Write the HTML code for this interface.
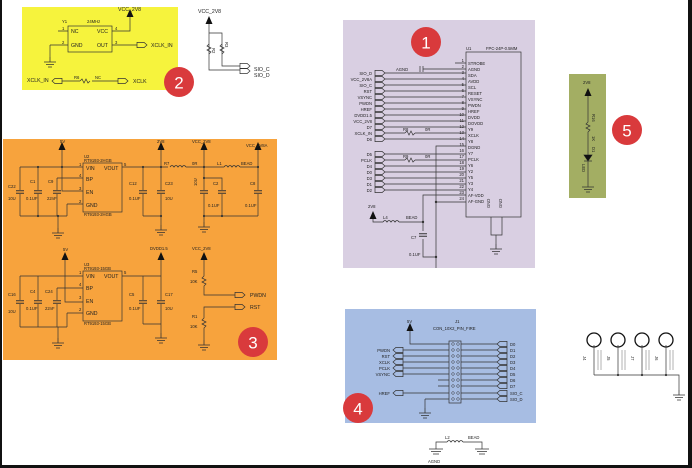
<!DOCTYPE html>
<html><head><meta charset="utf-8"><style>
html,body{margin:0;padding:0;background:#fff;}
svg{display:block;font-family:"Liberation Sans",sans-serif;}
.t{font-size:5.2px;fill:#222;}
.s{font-size:4.2px;fill:#222;}
.w{stroke:#333;stroke-width:0.7;fill:none;}
.b{font-size:17px;fill:#fff;font-family:"Liberation Sans",sans-serif;}
</style></head><body>
<svg width="692" height="468" viewBox="0 0 692 468" xmlns="http://www.w3.org/2000/svg">
<defs>
<g id="gnd"><path d="M0 0V5M-6 5H6M-4 7.5H4M-2 10H2" stroke="#333" stroke-width="0.8" fill="none"/></g>
<g id="arr"><path d="M-3.5 0L0 -8L3.5 0Z" fill="#111"/></g>
<g id="cap"><path d="M-4 -1.2H4M-4 1.2H4" stroke="#333" stroke-width="1"/></g>
<g id="conL"><path d="M0 -2.6H7L10 0L7 2.6H0Z" stroke="#333" stroke-width="0.7" fill="none"/></g>
<g id="conR"><path d="M10 -2.6H3L0 0L3 2.6H10Z" stroke="#333" stroke-width="0.7" fill="none"/></g>
<g id="ind"><path d="M0 0q2 -3 4 0q2 -3 4 0q2 -3 4 0q2 -3 4 0" stroke="#333" stroke-width="0.8" fill="none"/></g>
</defs>

<!-- frame -->
<rect x="0" y="0" width="2" height="468" fill="#111"/>
<rect x="688" y="0" width="4" height="468" fill="#111"/>
<rect x="0" y="465" width="692" height="3" fill="#111"/>

<!-- ===== yellow block ===== -->
<rect x="22" y="7" width="156" height="83" fill="#f6f33d"/>
<text x="62" y="23" class="s">Y1</text><text x="87" y="23" class="s">24MHz</text>
<rect x="68" y="26" width="44" height="26" class="w"/>
<text x="71" y="33" class="t">NC</text><text x="97" y="33" class="t">VCC</text>
<text x="71" y="47" class="t">GND</text><text x="97" y="47" class="t">OUT</text>
<path class="w" d="M58 31H68M112 31H130V15M112 45H137M50 45H68M50 45V57"/>
<text x="62" y="30" class="s">1</text><text x="62" y="44" class="s">2</text><text x="115" y="30" class="s">4</text><text x="115" y="44" class="s">3</text>
<use href="#gnd" x="50" y="57"/>
<use href="#arr" x="130" y="17"/>
<text x="118" y="11" class="t">VCC_2V8</text>
<use href="#conL" x="137" y="45"/>
<text x="151" y="47" class="t">XCLK_IN</text>
<text x="27" y="82" class="t">XCLK_IN</text>
<use href="#conR" x="52" y="81"/>
<path class="w" d="M62 81H80M92 81H118"/>
<path class="w" d="M80 81l2 -2l2 4l2 -4l2 4l2 -2"/>
<text x="74" y="79" class="s">R6</text><text x="95" y="79" class="s">NC</text>
<use href="#conL" x="118" y="81"/>
<text x="133" y="83" class="t">XCLK</text>
<circle cx="179" cy="82" r="15" fill="#d93a3c"/><text x="179" y="88.5" class="b" text-anchor="middle">2</text>

<!-- SIO pullups -->
<text x="198" y="13" class="t">VCC_2V8</text>
<use href="#arr" x="209" y="24"/>
<path class="w" d="M209 24V70H240M209 33H222V66H240"/>
<path class="w" d="M209 44l-2 2l4 2l-4 2l4 2l-2 2M222 44l-2 2l4 2l-4 2l4 2l-2 2"/>
<text x="212" y="48" class="s" transform="rotate(90 212 48)">R2</text>
<text x="225" y="42" class="s" transform="rotate(90 225 42)">R3</text>
<use href="#conL" x="240" y="66"/><use href="#conL" x="240" y="71"/>
<text x="254" y="71" class="t">SIO_C</text><text x="254" y="77" class="t">SIO_D</text>

<!-- ===== purple block ===== -->
<rect x="343" y="20" width="192" height="248" fill="#d9cfe2"/>
<circle cx="426" cy="42" r="15" fill="#d93a3c"/><text x="426" y="48.5" class="b" text-anchor="middle">1</text>
<text x="466" y="50" class="s">U1</text><text x="486" y="50" class="s">FPC-24P-0.5MM</text>
<rect x="466" y="52" width="55" height="165" class="w"/>
<g class="s">
<text x="468" y="65">STROBE</text><text x="468" y="71">AGND</text><text x="468" y="77">SDA</text><text x="468" y="83">AVDD</text>
<text x="468" y="89">SCL</text><text x="468" y="95">RESET</text><text x="468" y="101">VSYNC</text><text x="468" y="107">PWDN</text>
<text x="468" y="113">HREF</text><text x="468" y="119">DVDD</text><text x="468" y="125">DOVDD</text><text x="468" y="131">Y9</text>
<text x="468" y="137">XCLK</text><text x="468" y="143">Y8</text><text x="468" y="149">DGND</text><text x="468" y="155">Y7</text>
<text x="468" y="161">PCLK</text><text x="468" y="167">Y6</text><text x="468" y="173">Y2</text><text x="468" y="179">Y5</text>
<text x="468" y="185">Y3</text><text x="468" y="191">Y4</text><text x="468" y="197">AF-VDD</text><text x="468" y="203">AF-GND</text>
</g>
<g class="s" text-anchor="end">
<text x="464" y="62">1</text><text x="464" y="68">2</text><text x="464" y="74">3</text><text x="464" y="80">4</text><text x="464" y="86">5</text><text x="464" y="92">6</text><text x="464" y="98">7</text><text x="464" y="104">8</text><text x="464" y="110">9</text><text x="464" y="116">10</text><text x="464" y="122">11</text><text x="464" y="128">12</text><text x="464" y="134">13</text><text x="464" y="140">14</text><text x="464" y="146">15</text><text x="464" y="152">16</text><text x="464" y="158">17</text><text x="464" y="164">18</text><text x="464" y="170">19</text><text x="464" y="176">20</text><text x="464" y="182">21</text><text x="464" y="188">22</text><text x="464" y="194">23</text><text x="464" y="200">24</text>
</g>
<path class="w" d="M455 63H466M423 69H466M423 66V72M420 66V72"/>
<text x="396" y="71" class="s">AGND</text>
<g class="s" text-anchor="end">
<text x="372" y="75">SIO_D</text><text x="372" y="81">VCC_2V8A</text><text x="372" y="87">SIO_C</text><text x="372" y="93">RST</text>
<text x="372" y="99">VSYNC</text><text x="372" y="105">PWDN</text><text x="372" y="111">HREF</text><text x="372" y="117">DVDD1.5</text>
<text x="372" y="123">VCC_2V8</text><text x="372" y="129">D7</text><text x="372" y="135">XCLK_IN</text><text x="372" y="141">D6</text>
<text x="372" y="156">D5</text><text x="372" y="162">PCLK</text><text x="372" y="168">D4</text><text x="372" y="174">D0</text>
<text x="372" y="180">D3</text><text x="372" y="186">D1</text><text x="372" y="192">D2</text>
</g>
<g>
<use href="#conL" x="375" y="73"/><use href="#conL" x="375" y="79"/><use href="#conL" x="375" y="85"/><use href="#conL" x="375" y="91"/>
<use href="#conL" x="375" y="97"/><use href="#conL" x="375" y="103"/><use href="#conL" x="375" y="109"/><use href="#conL" x="375" y="115"/>
<use href="#conL" x="375" y="121"/><use href="#conL" x="375" y="127"/><use href="#conL" x="375" y="133"/><use href="#conL" x="375" y="139"/>
<use href="#conL" x="375" y="154"/><use href="#conL" x="375" y="160"/><use href="#conL" x="375" y="166"/><use href="#conL" x="375" y="172"/>
<use href="#conL" x="375" y="178"/><use href="#conL" x="375" y="184"/><use href="#conL" x="375" y="190"/>
</g>
<path class="w" d="M385 73H466M385 79H466M385 85H466M385 91H466M385 97H466M385 103H466M385 109H466M385 115H466M385 121H466M385 127H466M385 133H405M415 133H466M385 139H466M385 154H466M385 160H405M415 160H466M385 166H466M385 172H466M385 178H466M385 184H466M385 190H466"/>
<path class="w" d="M405 133l2 -2l2 4l2 -4l2 4l2 -2M405 160l2 -2l2 4l2 -4l2 4l2 -2"/>
<text x="403" y="131" class="s">R8</text><text x="425" y="131" class="s">0R</text>
<text x="403" y="158" class="s">R9</text><text x="425" y="158" class="s">0R</text>
<path class="w" d="M466 146H436V268M466 195H423V222M466 202H436M436 202V202"/>
<circle cx="436" cy="202" r="1.2" fill="#333"/><circle cx="436" cy="257" r="1.2" fill="#333"/><circle cx="423" cy="222" r="1.2" fill="#333"/>
<use href="#arr" x="373" y="219"/><text x="368" y="208" class="s">2V8</text>
<path class="w" d="M373 219V222H383M399 222H423V231M423 239V257H436"/>
<use href="#ind" x="383" y="222"/>
<text x="383" y="219" class="s">L4</text><text x="406" y="219" class="s">BEAD</text>
<use href="#cap" x="423" y="235"/>
<text x="411" y="239" class="s">C7</text><text x="409" y="256" class="s">0.1UF</text>
<path class="w" d="M491 217V235H502V217M496 235V244"/>
<text x="490" y="208" class="s" transform="rotate(-90 490 208)">GND</text><text x="502" y="208" class="s" transform="rotate(-90 502 208)">GND</text>
<use href="#gnd" x="496" y="244"/>

<!-- ===== orange block ===== -->
<rect x="3" y="139" width="274" height="221" fill="#f7a33d"/>
<!-- top regulator -->
<use href="#arr" x="62" y="150"/><text x="60" y="143" class="s">5V</text>
<text x="84" y="158" class="s">U2</text><text x="84" y="162" class="s">RT9193-2HGB</text>
<rect x="83" y="163" width="39" height="49" class="w"/>
<text x="86" y="170" class="t">VIN</text><text x="104" y="170" class="t">VOUT</text>
<text x="86" y="181" class="t">BP</text><text x="86" y="194" class="t">EN</text><text x="86" y="207" class="t">GND</text>
<text x="84" y="216" class="s">RT9193-2HGB</text>
<text x="79" y="166" class="s">1</text><text x="79" y="177" class="s">4</text><text x="79" y="190" class="s">3</text><text x="79" y="203" class="s">2</text><text x="124" y="166" class="s">5</text>
<path class="w" d="M20 167H83M62 150V191H83M57 178H83M57 178V190M57 194V216M67 204H83M67 204V216M20 167V190M20 194V216M38 167V190M38 194V216M20 216H67M58 216V228"/>
<use href="#cap" x="20" y="192"/><use href="#cap" x="38" y="192"/><use href="#cap" x="57" y="192"/>
<use href="#gnd" x="58" y="228"/>
<text x="8" y="188" class="s">C22</text><text x="8" y="200" class="s">10U</text>
<text x="30" y="183" class="s">C1</text><text x="26" y="200" class="s">0.1UF</text>
<text x="48" y="183" class="s">C9</text><text x="47" y="200" class="s">22nF</text>
<path class="w" d="M122 167H168M143 167V190M143 194V216M161 150V190M161 194V216M143 216H161M161 216V225"/>
<use href="#cap" x="143" y="192"/><use href="#cap" x="161" y="192"/><use href="#gnd" x="161" y="225"/>
<use href="#arr" x="161" y="150"/><text x="157" y="143" class="s">2V8</text>
<text x="129" y="185" class="s">C12</text><text x="129" y="200" class="s">0.1UF</text>
<text x="165" y="185" class="s">C23</text><text x="165" y="200" class="s">10U</text>
<use href="#ind" x="170" y="167"/><text x="164" y="165" class="s">R7</text><text x="192" y="165" class="s">0R</text>
<path class="w" d="M186 167H224M240 167H258M204 150V190M204 194V216M204 178H222V190M222 194V216M258 150V190M258 194V216M204 216H258M204 216V222"/>
<use href="#ind" x="224" y="167"/><text x="217" y="165" class="s">L1</text><text x="241" y="165" class="s">BEAD</text>
<use href="#cap" x="204" y="192"/><use href="#cap" x="222" y="192"/><use href="#cap" x="258" y="192"/>
<use href="#gnd" x="204" y="222"/>
<use href="#arr" x="204" y="150"/><text x="192" y="143" class="s">VCC_2V8</text>
<use href="#arr" x="258" y="150"/><text x="246" y="147" class="s">VCC_2V8A</text>
<text x="213" y="185" class="s">C2</text><text x="208" y="207" class="s">0.1UF</text>
<text x="250" y="185" class="s">C8</text><text x="245" y="207" class="s">0.1UF</text>
<text x="197" y="186" class="s" transform="rotate(-90 197 186)">10U</text>
<g fill="#333"><circle cx="38" cy="167" r="1.1"/><circle cx="62" cy="167" r="1.1"/><circle cx="38" cy="216" r="1.1"/><circle cx="58" cy="216" r="1.1"/><circle cx="143" cy="167" r="1.1"/><circle cx="161" cy="167" r="1.1"/><circle cx="161" cy="216" r="1.1"/><circle cx="204" cy="167" r="1.1"/><circle cx="204" cy="178" r="1.1"/><circle cx="258" cy="167" r="1.1"/><circle cx="204" cy="216" r="1.1"/><circle cx="222" cy="216" r="1.1"/></g>
<!-- bottom regulator -->
<use href="#arr" x="65" y="260"/><text x="63" y="251" class="s">5V</text>
<text x="84" y="266" class="s">U3</text><text x="84" y="270" class="s">RT9193-15GB</text>
<rect x="83" y="271" width="39" height="50" class="w"/>
<text x="86" y="278" class="t">VIN</text><text x="104" y="278" class="t">VOUT</text>
<text x="86" y="290" class="t">BP</text><text x="86" y="303" class="t">EN</text><text x="86" y="315" class="t">GND</text>
<text x="84" y="325" class="s">RT9193-15GB</text>
<text x="79" y="274" class="s">1</text><text x="79" y="286" class="s">4</text><text x="79" y="299" class="s">3</text><text x="79" y="311" class="s">2</text><text x="124" y="274" class="s">5</text>
<path class="w" d="M20 276H83M65 260V302H83M57 288H83M57 288V300M57 304V327M67 313H83M67 313V327M20 276V300M20 304V327M38 276V300M38 304V327M20 327H67M58 327V338"/>
<use href="#cap" x="20" y="302"/><use href="#cap" x="38" y="302"/><use href="#cap" x="57" y="302"/>
<use href="#gnd" x="58" y="338"/>
<text x="8" y="296" class="s">C16</text><text x="8" y="313" class="s">10U</text>
<text x="30" y="293" class="s">C4</text><text x="26" y="310" class="s">0.1UF</text>
<text x="45" y="293" class="s">C24</text><text x="45" y="310" class="s">22nF</text>
<path class="w" d="M122 276H161M143 276V300M143 304V324M161 260V300M161 304V324M143 324H161M161 324V333"/>
<use href="#cap" x="143" y="302"/><use href="#cap" x="161" y="302"/><use href="#gnd" x="161" y="333"/>
<use href="#arr" x="161" y="260"/><text x="150" y="250" class="s">DVDD1.5</text>
<text x="129" y="296" class="s">C5</text><text x="129" y="310" class="s">0.1UF</text>
<text x="165" y="296" class="s">C17</text><text x="165" y="310" class="s">10U</text>
<use href="#arr" x="204" y="260"/><text x="192" y="250" class="s">VCC_2V8</text>
<path class="w" d="M204 260V276l-2 2l4 2l-4 2l4 2l-2 2V295H235M235 307H204V318l-2 2l4 2l-4 2l4 2l-2 2V340"/>
<text x="192" y="273" class="s">R5</text><text x="190" y="283" class="s">10K</text>
<text x="192" y="318" class="s">R1</text><text x="190" y="328" class="s">10K</text>
<use href="#conL" x="235" y="295"/><use href="#conL" x="235" y="307"/>
<text x="250" y="297" class="t">PWDN</text><text x="250" y="309" class="t">RST</text>
<use href="#gnd" x="204" y="340"/>
<circle cx="253" cy="342" r="15" fill="#d93a3c"/><text x="253" y="348.5" class="b" text-anchor="middle">3</text>

<!-- ===== blue block ===== -->
<rect x="345" y="309" width="191" height="114" fill="#a7bde3"/>
<use href="#arr" x="410" y="331"/><text x="407" y="323" class="s">5V</text>
<text x="455" y="323" class="s">J1</text><text x="433" y="330" class="s">CON_10X2_PIN_FIRE</text>
<rect x="449" y="341" width="12" height="62" class="w"/>
<path class="w" d="M410 331V344H449M403 350H449M403 356H449M403 362H449M403 368H449M403 374H449M438 380H449M438 386H449M403 393H449M425 399H449M425 399V408M461 344H497M461 350H497M461 356H497M461 362H497M461 368H497M461 374H497M461 380H497M461 386H497M461 393H497M461 399H497"/>
<use href="#gnd" x="425" y="408"/>
<g fill="none" stroke="#333" stroke-width="0.5">
<circle cx="453" cy="344" r="1.3"/><circle cx="458" cy="344" r="1.3"/><circle cx="453" cy="350" r="1.3"/><circle cx="458" cy="350" r="1.3"/><circle cx="453" cy="356" r="1.3"/><circle cx="458" cy="356" r="1.3"/><circle cx="453" cy="362" r="1.3"/><circle cx="458" cy="362" r="1.3"/><circle cx="453" cy="368" r="1.3"/><circle cx="458" cy="368" r="1.3"/><circle cx="453" cy="374" r="1.3"/><circle cx="458" cy="374" r="1.3"/><circle cx="453" cy="380" r="1.3"/><circle cx="458" cy="380" r="1.3"/><circle cx="453" cy="386" r="1.3"/><circle cx="458" cy="386" r="1.3"/><circle cx="453" cy="393" r="1.3"/><circle cx="458" cy="393" r="1.3"/><circle cx="453" cy="399" r="1.3"/><circle cx="458" cy="399" r="1.3"/>
</g>
<g class="s" text-anchor="end">
<text x="390" y="352">PWDN</text><text x="390" y="358">RST</text><text x="390" y="364">XCLK</text><text x="390" y="370">PCLK</text><text x="390" y="376">VSYNC</text><text x="390" y="395">HREF</text>
</g>
<use href="#conR" x="393" y="350"/><use href="#conR" x="393" y="356"/><use href="#conR" x="393" y="362"/><use href="#conR" x="393" y="368"/><use href="#conR" x="393" y="374"/><use href="#conR" x="393" y="393"/>
<g>
<use href="#conR" x="497" y="344"/><use href="#conR" x="497" y="350"/><use href="#conR" x="497" y="356"/><use href="#conR" x="497" y="362"/><use href="#conR" x="497" y="368"/><use href="#conR" x="497" y="374"/><use href="#conR" x="497" y="380"/><use href="#conR" x="497" y="386"/><use href="#conR" x="497" y="393"/><use href="#conR" x="497" y="399"/>
</g>
<g class="s">
<text x="510" y="346">D0</text><text x="510" y="352">D1</text><text x="510" y="358">D2</text><text x="510" y="364">D3</text><text x="510" y="370">D4</text><text x="510" y="376">D5</text><text x="510" y="382">D6</text><text x="510" y="388">D7</text><text x="510" y="395">SIO_C</text><text x="510" y="401">SIO_D</text>
</g>
<circle cx="358" cy="408" r="15" fill="#d93a3c"/><text x="358" y="414.5" class="b" text-anchor="middle">4</text>

<!-- AGND bead -->
<path class="w" d="M436 449V442H447M463 442H482V449"/>
<use href="#ind" x="447" y="442"/>
<text x="445" y="439" class="s">L2</text><text x="468" y="439" class="s">BEAD</text>
<path class="w" d="M429 449H443M431 451.5H441M433 454H439M475 449H489M477 451.5H487M479 454H485"/>
<text x="428" y="463" class="s">AGND</text>

<!-- ===== green block ===== -->
<rect x="569" y="74" width="37" height="124" fill="#a3ae63"/>
<text x="583" y="84" class="s">2V8</text>
<use href="#arr" x="588" y="96"/>
<path class="w" d="M588 96V122l-2 2l4 2l-4 2l4 2l-2 2V155M584 155H592M584 155L588 161L592 155Z M588 161V187"/>
<path d="M584 155H592L588 161Z" fill="#111"/>
<path class="w" d="M584 161H592M582 187H594M584 189.5H592M586 192H590"/>
<text x="592" y="114" class="s" transform="rotate(90 592 114)">R16</text>
<text x="592" y="136" class="s" transform="rotate(90 592 136)">1K</text>
<text x="592" y="147" class="s" transform="rotate(90 592 147)">D1</text>
<text x="582" y="164" class="s" transform="rotate(90 582 164)">LED</text>
<circle cx="627" cy="130" r="15" fill="#d93a3c"/><text x="627" y="136.5" class="b" text-anchor="middle">5</text>

<!-- mounting holes -->
<g fill="none" stroke="#111" stroke-width="1.3">
<circle cx="594" cy="340" r="7"/><circle cx="618" cy="340" r="7"/><circle cx="642" cy="340" r="7"/><circle cx="666" cy="340" r="7"/>
</g>
<path class="w" d="M594 345V375M618 345V375M642 345V375M666 345V375M594 375H679V390"/>
<g class="s">
<text x="583" y="356" transform="rotate(90 583 356)">J4</text><text x="607" y="356" transform="rotate(90 607 356)">J5</text><text x="631" y="356" transform="rotate(90 631 356)">J7</text><text x="655" y="356" transform="rotate(90 655 356)">J6</text>
</g>
<g stroke="#666" stroke-width="0.5">
<path d="M598 350V370M601 350V370M622 350V370M625 350V370M646 350V370M649 350V370M670 350V370M673 350V370"/>
</g>
<g fill="#333"><circle cx="618" cy="375" r="1.1"/><circle cx="642" cy="375" r="1.1"/><circle cx="666" cy="375" r="1.1"/></g>
<use href="#gnd" x="679" y="390"/>
</svg>
</body></html>
